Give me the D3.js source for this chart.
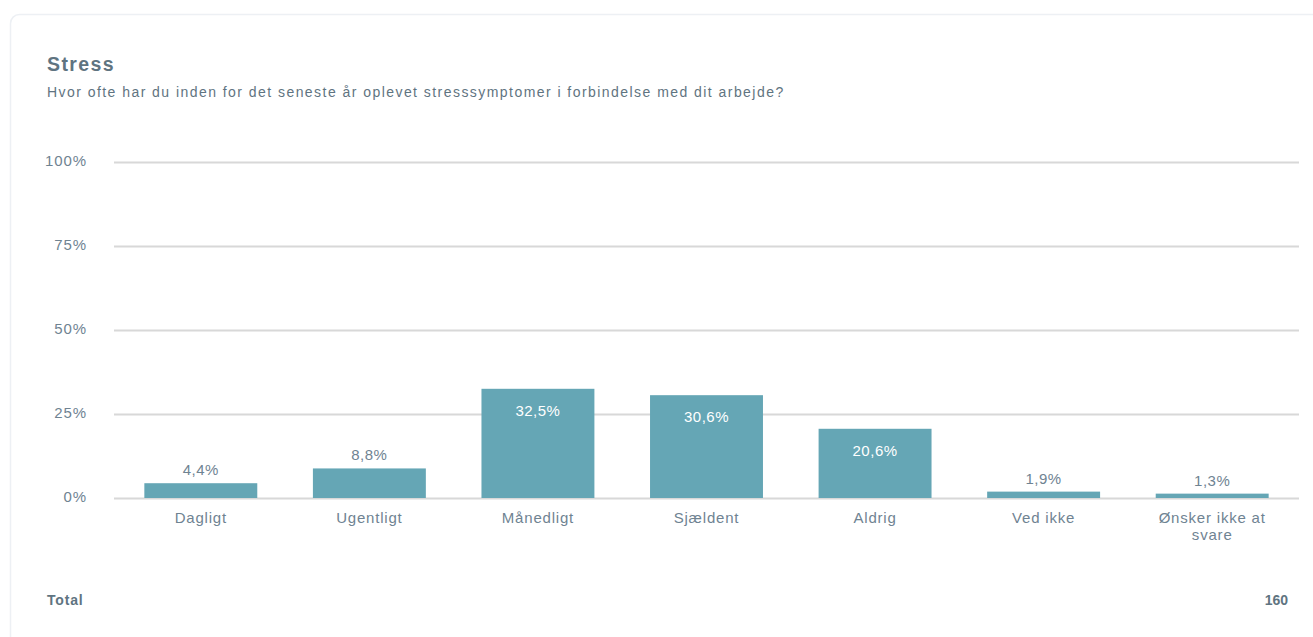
<!DOCTYPE html>
<html>
<head>
<meta charset="utf-8">
<script src="https://cdn.jsdelivr.net/npm/d3@7"></script>
<style>
  html, body { margin: 0; padding: 0; background: #fff; }
  svg { display: block; font-family: "Liberation Sans", Arial, sans-serif; }
</style>
</head>
<body>
<svg id="chart" width="1313" height="637"></svg>
<script>
// Survey answers: share of respondents per answer option (%)
const categories = ["Dagligt", "Ugentligt", "Månedligt", "Sjældent", "Aldrig", "Ved ikke", "Ønsker ikke at svare"];
const values = [4.4, 8.8, 32.5, 30.6, 20.6, 1.9, 1.3];
const yTicks = [0, 25, 50, 75, 100];
const title = "Stress";
const subtitle = "Hvor ofte har du inden for det seneste år oplevet stresssymptomer i forbindelse med dit arbejde?";
const totalLabel = "Total";
const totalValue = 160;

const svg = d3.select("#chart");
const textColor = "#6f8392";
const headColor = "#5f7481";
const barColor = "#65a6b5";

// card outline (runs off the right and bottom edges)
svg.append("rect")
  .attr("x", 10.5).attr("y", 14.5)
  .attr("width", 1340).attr("height", 700)
  .attr("rx", 9)
  .attr("fill", "#fff")
  .attr("stroke", "#edf0f4")
  .attr("stroke-width", 1.5);

svg.append("text")
  .attr("x", 47).attr("y", 71)
  .attr("font-size", 19.5).attr("font-weight", "bold")
  .attr("letter-spacing", 1.4)
  .attr("fill", headColor)
  .text(title);

svg.append("text")
  .attr("x", 47).attr("y", 97)
  .attr("font-size", 14)
  .attr("letter-spacing", 1.45)
  .attr("fill", headColor)
  .text(subtitle);

const x = d3.scaleBand()
  .domain(categories)
  .range([114, 1299])
  .paddingInner(0.33)
  .paddingOuter(0.18);

const y = d3.scaleLinear().domain([0, 100]).range([498, 162]);

// horizontal gridlines with tick labels
const yAxis = svg.append("g")
  .attr("transform", "translate(114,0)")
  .call(d3.axisLeft(y).tickValues(yTicks).tickSize(-1185).tickFormat(d => d + "%"));
yAxis.select(".domain").remove();
yAxis.selectAll(".tick line").attr("stroke", "#d8d8d8").attr("stroke-width", 2);
yAxis.selectAll(".tick text")
  .attr("x", -27).attr("dy", "0.22em")
  .attr("font-size", 15)
  .attr("letter-spacing", 0.9)
  .attr("font-family", "Liberation Sans, Arial, sans-serif")
  .attr("fill", textColor);

const data = categories.map((c, i) => ({ c, v: values[i] }));

svg.append("g").selectAll("rect")
  .data(data).join("rect")
  .attr("x", d => x(d.c))
  .attr("y", d => y(d.v))
  .attr("width", x.bandwidth())
  .attr("height", d => y(0) - y(d.v))
  .attr("fill", barColor);

// value labels: white inside tall bars, grey above short ones
const fmt = v => v.toFixed(1).replace(".", ",") + "%";
svg.append("g").selectAll("text")
  .data(data).join("text")
  .attr("x", d => x(d.c) + x.bandwidth() / 2)
  .attr("y", d => (y(0) - y(d.v)) > 40 ? y(d.v) + 27 : y(d.v) - 8)
  .attr("text-anchor", "middle")
  .attr("font-size", 15)
  .attr("letter-spacing", 0.5)
  .attr("fill", d => (y(0) - y(d.v)) > 40 ? "#ffffff" : textColor)
  .text(d => fmt(d.v));

// category labels, wrapped to fit the band
const catG = svg.append("g").selectAll("text")
  .data(data).join("text")
  .attr("x", d => x(d.c) + x.bandwidth() / 2)
  .attr("y", 523)
  .attr("text-anchor", "middle")
  .attr("font-size", 15)
  .attr("letter-spacing", 0.8)
  .attr("fill", textColor);
catG.each(function(d) {
  const t = d3.select(this);
  const words = d.c.split(" ");
  const lines = [];
  let line = [];
  const maxW = x.bandwidth();
  const probe = t.append("tspan");
  words.forEach(w => {
    const test = line.concat([w]).join(" ");
    probe.text(test);
    if (probe.node().getComputedTextLength() > maxW && line.length) {
      lines.push(line.join(" "));
      line = [w];
    } else {
      line.push(w);
    }
  });
  lines.push(line.join(" "));
  probe.remove();
  lines.forEach((l, i) => {
    t.append("tspan")
      .attr("x", x(d.c) + x.bandwidth() / 2)
      .attr("dy", i === 0 ? 0 : 17)
      .text(l);
  });
});

svg.append("text")
  .attr("x", 47).attr("y", 605)
  .attr("font-size", 14).attr("font-weight", "bold")
  .attr("letter-spacing", 0.8)
  .attr("fill", headColor)
  .text(totalLabel);

svg.append("text")
  .attr("x", 1288).attr("y", 605)
  .attr("text-anchor", "end")
  .attr("font-size", 14).attr("font-weight", "bold")
  .attr("fill", headColor)
  .text(totalValue);
</script>
</body>
</html>
